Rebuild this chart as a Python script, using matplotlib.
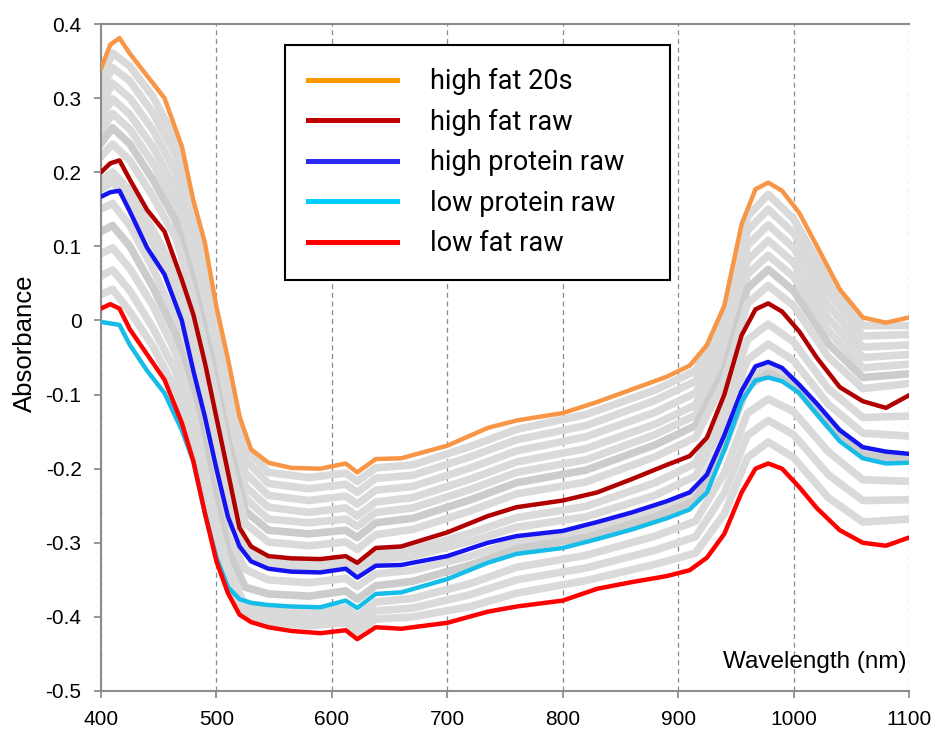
import matplotlib
matplotlib.use('Agg')
import matplotlib.pyplot as plt
from matplotlib.lines import Line2D

# wavelength grid of the highlighted spectra (nm)
wl = [400, 408, 416, 425, 440, 455, 470, 480, 490, 500, 510, 520, 530, 545, 565, 590,
      612, 622, 638, 660, 700, 735, 760, 800, 830, 860, 890, 910, 925, 940, 955, 967,
      978, 990, 1005, 1020, 1040, 1060, 1080, 1100]

high_fat_20s = [0.34, 0.372, 0.381, 0.36, 0.33, 0.30, 0.235, 0.162, 0.105, 0.018, -0.052, -0.13,
                -0.174, -0.192, -0.199, -0.2, -0.193, -0.205, -0.187, -0.186, -0.169, -0.145,
                -0.135, -0.125, -0.11, -0.093, -0.076, -0.061, -0.033, 0.02, 0.13, 0.177,
                0.186, 0.175, 0.145, 0.101, 0.042, 0.004, -0.003, 0.004]
high_fat_raw = [0.2, 0.212, 0.216, 0.19, 0.149, 0.12, 0.055, 0.008, -0.057, -0.131, -0.205, -0.28,
                -0.305, -0.318, -0.321, -0.322, -0.318, -0.327, -0.307, -0.305, -0.286, -0.264,
                -0.252, -0.243, -0.232, -0.214, -0.195, -0.183, -0.158, -0.1, -0.02, 0.015,
                0.023, 0.012, -0.015, -0.05, -0.09, -0.109, -0.118, -0.101]
high_protein_raw = [0.167, 0.173, 0.175, 0.147, 0.098, 0.062, 0.0, -0.068, -0.13, -0.2, -0.265, -0.305,
                    -0.325, -0.335, -0.339, -0.34, -0.335, -0.347, -0.331, -0.33, -0.318, -0.3,
                    -0.291, -0.284, -0.272, -0.259, -0.244, -0.232, -0.208, -0.155, -0.095, -0.062,
                    -0.056, -0.064, -0.087, -0.112, -0.148, -0.171, -0.177, -0.18]
low_protein_raw = [-0.002, -0.004, -0.006, -0.033, -0.068, -0.098, -0.148, -0.19, -0.26, -0.32, -0.36, -0.376,
                   -0.381, -0.384, -0.386, -0.387, -0.378, -0.388, -0.369, -0.367, -0.349, -0.327,
                   -0.315, -0.307, -0.295, -0.282, -0.267, -0.255, -0.232, -0.175, -0.109, -0.081,
                   -0.077, -0.082, -0.098, -0.126, -0.163, -0.186, -0.193, -0.192]
low_fat_raw = [0.016, 0.022, 0.016, -0.012, -0.046, -0.08, -0.138, -0.19, -0.26, -0.325, -0.368, -0.397,
               -0.407, -0.414, -0.419, -0.422, -0.418, -0.43, -0.414, -0.416, -0.408, -0.393,
               -0.386, -0.378, -0.362, -0.353, -0.345, -0.337, -0.32, -0.288, -0.232, -0.2,
               -0.193, -0.2, -0.225, -0.253, -0.283, -0.3, -0.304, -0.293]

# coarser grid for the other (gray) samples
wl_bg = [400, 410, 425, 445, 465, 480, 495, 510, 525, 545, 580, 612, 622, 638, 670, 720,
         760, 820, 880, 915, 940, 960, 978, 1000, 1030, 1060, 1100]

gray_01 = [0.326, 0.361, 0.343, 0.302, 0.243, 0.147, 0.045, -0.067, -0.172, -0.205, -0.212, -0.206, -0.217, -0.199,
           -0.195, -0.17, -0.147, -0.127, -0.094, -0.068, 0.008, 0.14, 0.17, 0.137, 0.056, -0.007, -0.007]
gray_02 = [0.309, 0.341, 0.323, 0.28, 0.222, 0.128, 0.027, -0.086, -0.188, -0.22, -0.227, -0.221, -0.232, -0.213,
           -0.209, -0.184, -0.161, -0.142, -0.108, -0.082, -0.006, 0.121, 0.15, 0.118, 0.039, -0.021, -0.019]
gray_03 = [0.291, 0.32, 0.3, 0.257, 0.199, 0.108, 0.008, -0.106, -0.206, -0.236, -0.243, -0.237, -0.248, -0.229,
           -0.224, -0.199, -0.176, -0.157, -0.124, -0.098, -0.022, 0.101, 0.129, 0.098, 0.021, -0.036, -0.033]
gray_04 = [0.273, 0.299, 0.278, 0.234, 0.176, 0.088, -0.012, -0.125, -0.224, -0.252, -0.259, -0.253, -0.264, -0.245,
           -0.239, -0.214, -0.191, -0.173, -0.14, -0.114, -0.038, 0.081, 0.108, 0.078, 0.003, -0.05, -0.046]
gray_05 = [0.256, 0.279, 0.258, 0.212, 0.155, 0.07, -0.03, -0.144, -0.24, -0.268, -0.273, -0.268, -0.278, -0.259,
           -0.253, -0.228, -0.205, -0.188, -0.154, -0.128, -0.052, 0.062, 0.088, 0.059, -0.014, -0.064, -0.059]
gray_06 = [0.239, 0.26, 0.238, 0.19, 0.134, 0.051, -0.048, -0.162, -0.257, -0.283, -0.288, -0.283, -0.293, -0.273,
           -0.267, -0.242, -0.219, -0.202, -0.168, -0.142, -0.066, 0.043, 0.069, 0.04, -0.031, -0.077, -0.072]
gray_07 = [0.221, 0.238, 0.216, 0.167, 0.111, 0.031, -0.068, -0.182, -0.274, -0.299, -0.304, -0.299, -0.309, -0.289,
           -0.282, -0.257, -0.234, -0.218, -0.184, -0.158, -0.082, 0.023, 0.047, 0.02, -0.049, -0.092, -0.085]
gray_08 = [0.188, 0.2, 0.175, 0.122, 0.064, -0.019, -0.118, -0.226, -0.303, -0.324, -0.328, -0.324, -0.334, -0.315,
           -0.309, -0.287, -0.266, -0.251, -0.219, -0.193, -0.119, -0.026, -0.005, -0.029, -0.092, -0.131, -0.129]
gray_09 = [0.177, 0.187, 0.16, 0.104, 0.043, -0.045, -0.146, -0.247, -0.31, -0.33, -0.335, -0.33, -0.341, -0.324,
           -0.318, -0.298, -0.279, -0.265, -0.236, -0.21, -0.139, -0.053, -0.032, -0.054, -0.113, -0.152, -0.156]
gray_10 = [0.15, 0.158, 0.128, 0.07, 0.0, -0.085, -0.19, -0.29, -0.336, -0.35, -0.354, -0.348, -0.359, -0.342,
           -0.337, -0.318, -0.298, -0.285, -0.257, -0.233, -0.162, -0.081, -0.062, -0.081, -0.136, -0.176, -0.184]
gray_11 = [0.12, 0.128, 0.1, 0.045, -0.02, -0.1, -0.21, -0.31, -0.36, -0.369, -0.372, -0.365, -0.376, -0.358,
           -0.352, -0.33, -0.308, -0.293, -0.265, -0.243, -0.171, -0.089, -0.071, -0.087, -0.142, -0.182, -0.188]
gray_12 = [0.09, 0.098, 0.07, 0.02, -0.045, -0.125, -0.24, -0.335, -0.385, -0.392, -0.395, -0.388, -0.399, -0.38,
           -0.375, -0.355, -0.333, -0.317, -0.291, -0.271, -0.206, -0.125, -0.106, -0.123, -0.177, -0.215, -0.217]
gray_13 = [0.06, 0.068, 0.04, -0.01, -0.07, -0.15, -0.26, -0.348, -0.391, -0.399, -0.404, -0.398, -0.409, -0.392,
           -0.388, -0.37, -0.35, -0.334, -0.31, -0.292, -0.233, -0.155, -0.135, -0.154, -0.208, -0.243, -0.242]
gray_14 = [0.035, 0.042, 0.012, -0.035, -0.095, -0.17, -0.28, -0.36, -0.397, -0.407, -0.412, -0.408, -0.42, -0.403,
           -0.4, -0.386, -0.368, -0.351, -0.329, -0.314, -0.261, -0.185, -0.164, -0.185, -0.239, -0.272, -0.268]

background = [gray_01, gray_02, gray_03, gray_04, gray_05, gray_06, gray_07,
              gray_08, gray_09, gray_10, gray_11, gray_12, gray_13, gray_14]

labels = ['high fat 20s', 'high fat raw', 'high protein raw', 'low protein raw', 'low fat raw']
highlighted = [high_fat_20s, high_fat_raw, high_protein_raw, low_protein_raw, low_fat_raw]
line_colors = ['#F79646', '#B00000', '#1414F0', '#16BDE8', '#FF0000']
legend_colors = ['#FF9900', '#C00000', '#2B2BF5', '#00CCFF', '#FF0000']

x_ticks = [400, 500, 600, 700, 800, 900, 1000, 1100]
y_ticks = [-0.5, -0.4, -0.3, -0.2, -0.1, 0.0, 0.1, 0.2, 0.3, 0.4]
y_tick_labels = ['-0.5', '-0.4', '-0.3', '-0.2', '-0.1', '0', '0.1', '0.2', '0.3', '0.4']

plt.rcParams['font.family'] = ['Liberation Sans', 'DejaVu Sans']

fig = plt.figure(figsize=(9.36, 7.30), dpi=100)
ax = fig.add_axes([101 / 936, 1 - 691 / 730, 808 / 936, 667 / 730])

# gray samples first, highlighted ones on top
for i, spec in enumerate(background):
    c = '#cccccc' if i in (5, 10) else '#dadada'
    ax.plot(wl_bg, spec, color=c, lw=5.5, solid_joinstyle='round', zorder=2)

for spec, col in zip(highlighted, line_colors):
    ax.plot(wl, spec, color=col, lw=3.2, solid_joinstyle='round', solid_capstyle='round', zorder=3)

ax.set_xlim(400, 1100)
ax.set_ylim(-0.5, 0.4)
ax.set_xticks(x_ticks)
ax.set_yticks(y_ticks)
ax.set_yticklabels(y_tick_labels)
ax.tick_params(direction='out', length=5, width=1.3, color='#8c8c8c', labelsize=15, pad=9)

ax.set_axisbelow(True)
ax.xaxis.grid(True, linestyle=(0, (4, 3)), color='#8c8c8c', lw=0.9)
for side in ['left', 'bottom', 'top']:
    ax.spines[side].set_color('#8c8c8c')
    ax.spines[side].set_linewidth(1.5)
ax.spines['right'].set_visible(False)

ax.text(0.997, 0.043, 'Wavelength (nm)', transform=ax.transAxes, ha='right', va='center', fontsize=17.5)
fig.text(0.027, 0.53, 'Absorbance', rotation=90, ha='center', va='center', fontsize=18.5)

handles = [Line2D([], [], color=c, lw=3.6) for c in legend_colors]
leg = ax.legend(handles, labels, loc='upper left', mode='expand',
                bbox_to_anchor=(285 / 936, 1 - 279 / 730, 385 / 936, 234 / 730),
                bbox_transform=fig.transFigure, borderaxespad=0,
                prop={'family': 'Roboto', 'size': 19.5}, handlelength=3.3, handletextpad=1.22,
                labelspacing=0.5, borderpad=0.85, fancybox=False, framealpha=1, edgecolor='black')
leg.get_frame().set_linewidth(1.5)

fig.savefig('out.png', dpi=100)
